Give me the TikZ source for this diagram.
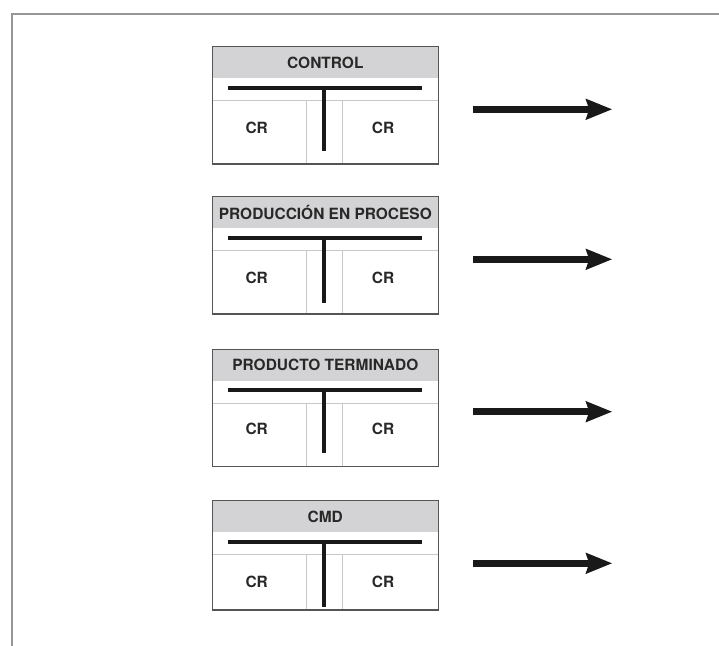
\documentclass[tikz,border=0pt]{standalone}
\usepackage{fontspec}
\setmainfont{TeX Gyre Heros}
\usetikzlibrary{arrows.meta}
\definecolor{headfill}{RGB}{211,211,213}
\definecolor{boxcol}{RGB}{85,85,85}
\definecolor{thincol}{RGB}{200,200,200}
\definecolor{framecol}{RGB}{150,150,150}
\definecolor{txtcol}{RGB}{40,40,40}
\definecolor{barcol}{RGB}{25,25,25}
\tikzset{
  framelinestyle/.style={draw=framecol, line width=1.5pt},
  boxline/.style={draw=boxcol, line width=1.1pt},
  thinline/.style={draw=thincol, line width=0.8pt},
  heavybar/.style={draw=barcol, line width=3pt},
  lab/.style={inner sep=0pt, text=txtcol, font=\fontsize{11.6pt}{13pt}\selectfont\bfseries},
  bigarrow/.style={draw=barcol, line width=5.3pt, -{Stealth[length=19.5pt, width=15pt, inset=2.2pt]}}
}
\begin{document}
\begin{tikzpicture}[x=0.75pt, y=-0.75pt]
\useasboundingbox (0,0) rectangle (719,646);
\fill[white] (0,0) rectangle (719,646);
% frame
\coordinate (ftl) at (12,14);
\coordinate (ftr) at (719,14);
\coordinate (fbl) at (12,646);
\draw[framelinestyle] (ftr) -- (ftl) -- (fbl);
\foreach \i/\t/\b/\ay/\lab/\vend/\cry in {
  1/46.7/164/109.3/CONTROL/151/127.5,
  2/196.7/314/259.3/{PRODUCCIÓN EN PROCESO}/302.7/278,
  3/349.3/466.7/411.7/{PRODUCTO TERMINADO}/453.3/428.5,
  4/500.5/610/563.3/CMD/606.7/581.7}{
  \fill[headfill] (212.7,\t) rectangle (438.3,\t+31.6);
  \draw[thinline] (212.7,\t+54) -- (438.3,\t+54);
  \draw[thinline] (306.7,\t+54) -- (306.7,\b);
  \draw[thinline] (342.7,\t+54) -- (342.7,\b);
  \draw[boxline] (212.7,\t) rectangle (438.3,\b);
  \coordinate (hl\i) at (227.8,\t+41);
  \coordinate (hr\i) at (422,\t+41);
  \coordinate (vt\i) at (324.3,\t+41);
  \coordinate (vb\i) at (324.3,\vend);
  \draw[heavybar] (hl\i) -- (hr\i);
  \draw[heavybar] (vt\i) -- (vb\i);
  \node[lab] (head\i) at (325.3,\t+16) {\lab};
  \node[lab] (crl\i) at (256.7,\cry) {CR};
  \node[lab] (crr\i) at (383,\cry) {CR};
  \coordinate (as\i) at (473.3,\ay);
  \coordinate (ae\i) at (612.3,\ay);
  \draw[bigarrow] (as\i) -- (ae\i);
}
\end{tikzpicture}
\end{document}
